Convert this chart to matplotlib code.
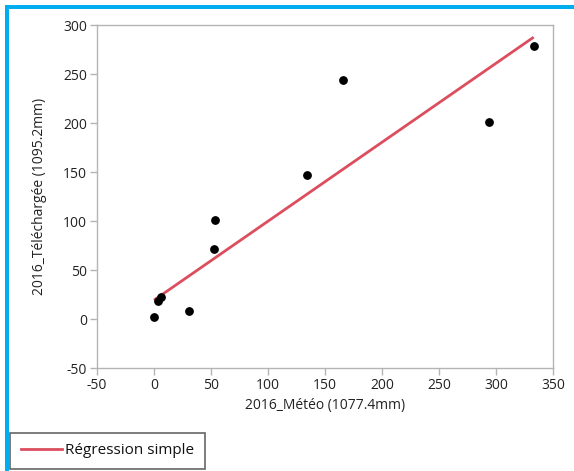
import matplotlib
matplotlib.use("Agg")
import matplotlib.pyplot as plt
from matplotlib.patches import Rectangle
from matplotlib.lines import Line2D
import numpy as np

plt.rcParams['font.family'] = ['Open Sans', 'DejaVu Sans']
plt.rcParams['axes.unicode_minus'] = False

# rainfall 2016: weather station vs downloaded data (mm)
meteo = [0.0, 3.2, 6.1, 30.9, 52.6, 53.4, 133.7, 165.8, 293.4, 332.8]
telechargee = [1.7, 18.7, 22.8, 8.2, 71.2, 101.1, 146.8, 244.1, 200.9, 279.2]

# simple regression line as shown on the chart
reg_intercept = 19.3
reg_slope = 0.807

x_ticks = [-50, 0, 50, 100, 150, 200, 250, 300, 350]
y_ticks = [-50, 0, 50, 100, 150, 200, 250, 300]

W, H = 574, 471
fig = plt.figure(figsize=(W / 100, H / 100), dpi=100)
ax = fig.add_axes([97 / W, 1 - 368 / H, (553.3 - 97) / W, (368 - 25.3) / H])

grey = '#B4B4B4'
red = '#DC4E5E'

# regression first, points on top
xr = np.array([min(meteo), max(meteo)])
ax.plot(xr, reg_intercept + reg_slope * xr, color=red, lw=2.0, solid_capstyle='butt', zorder=2)
ax.scatter(meteo, telechargee, s=28, color='black', zorder=3)

ax.set_xlim(-50, 350)
ax.set_ylim(-50, 300)
ax.set_xticks(x_ticks)
ax.set_yticks(y_ticks)
for sp in ax.spines.values():
    sp.set_color(grey)
    sp.set_linewidth(1.0)
ax.tick_params(direction='out', length=5, width=1, color=grey, labelsize=10, labelcolor='#222222', pad=2)

ax.set_xlabel('2016_Météo (1077.4mm)', fontsize=10, color='#222222', labelpad=4)
ax.set_ylabel('2016_Téléchargée (1095.2mm)', fontsize=10, color='#222222', labelpad=12)

# legend box bottom left
handle = Line2D([], [], color=red, lw=2.0)
leg = fig.legend([handle], ['Régression simple'], loc='upper left',
                 bbox_to_anchor=(10 / W, 1 - 432.5 / H), fontsize=11,
                 frameon=True, fancybox=False, edgecolor='#404040',
                 handlelength=2.7, handletextpad=0.2, borderpad=0.7, borderaxespad=0)
leg.get_frame().set_linewidth(1.2)
for t in leg.get_texts():
    t.set_color('#111111')

# blue frame along the top and left edges
blue = '#00AEEF'
fig.patches.append(Rectangle((5 / W, 1 - 9 / H), 1 - 5 / W, 4 / H, transform=fig.transFigure,
                             facecolor=blue, edgecolor='none', zorder=5))
fig.patches.append(Rectangle((5 / W, 0), 4 / W, 1 - 5 / H, transform=fig.transFigure,
                             facecolor=blue, edgecolor='none', zorder=5))

fig.savefig('out.png', dpi=100, facecolor='white')
